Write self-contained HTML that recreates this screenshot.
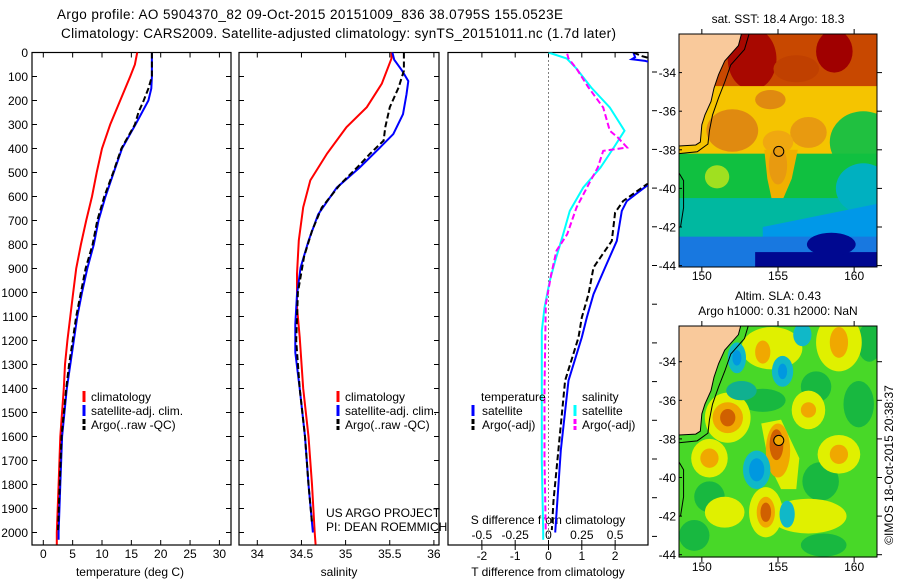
<!DOCTYPE html>
<html><head><meta charset="utf-8"><style>
html,body{margin:0;padding:0;background:#fff;}
svg{display:block;font-family:"Liberation Sans",sans-serif;}
</style></head><body>
<svg id="fig" width="900" height="580" viewBox="0 0 900 580">
<defs>
<clipPath id="c1"><rect x="32" y="52.5" width="199" height="492.5"/></clipPath>
<clipPath id="c2"><rect x="239" y="52.5" width="200" height="492.5"/></clipPath>
<clipPath id="c3"><rect x="448" y="52.5" width="200" height="492.5"/></clipPath>
<clipPath id="cm"><rect x="148.5" y="32" width="13" height="12.1"/></clipPath>
<clipPath id="cm2"><rect x="148.5" y="32.15" width="13" height="12"/></clipPath>
</defs>
<g font-size="13.5">
<text x="57" y="19" textLength="506">Argo profile: AO 5904370_82 09-Oct-2015 20151009_836 38.0795S 155.0523E</text>
<text x="61" y="38" textLength="555">Climatology: CARS2009. Satellite-adjusted climatology: synTS_20151011.nc (1.7d later)</text>
</g>
<g id="panels"></g>

<!-- SST map -->
<text x="778" y="23" text-anchor="middle" font-size="12">sat. SST: 18.4  Argo: 18.3</text>
<g>
<g transform="translate(679,34) scale(15.23,19.3) translate(-148.5,-32)">
<g clip-path="url(#cm)">
<rect x="148.5" y="32" width="13" height="12.2" fill="#10c040"/>
<rect x="148.5" y="32" width="13" height="3" fill="#c84800"/>
<ellipse cx="153.3" cy="33.3" rx="1.6" ry="1.6" fill="#a80800"/>
<ellipse cx="158.7" cy="32.9" rx="1.2" ry="1.1" fill="#a00000"/>
<ellipse cx="156.2" cy="33.8" rx="1.5" ry="0.7" fill="#c04000"/>
<rect x="148.5" y="34.7" width="13" height="3.6" fill="#f5c400"/>
<ellipse cx="160.6" cy="37.6" rx="2.2" ry="1.6" fill="#20c040"/>
<ellipse cx="152" cy="37" rx="1.7" ry="1.1" fill="#e08a10"/>
<ellipse cx="154.5" cy="35.4" rx="1" ry="0.5" fill="#e08a10"/>
<ellipse cx="157" cy="37.1" rx="1.2" ry="0.8" fill="#e89a10"/>
<ellipse cx="155" cy="37.6" rx="1" ry="0.6" fill="#f0a810"/>
<rect x="148.5" y="38.2" width="13" height="2.4" fill="#10c040"/>
<ellipse cx="151" cy="39.4" rx="0.8" ry="0.6" fill="#a0e020"/>
<polygon points="154.1,38 156.3,38 155.9,39.5 155.3,40.6 154.6,40.6 154.3,39.5" fill="#f0b000"/>
<ellipse cx="155" cy="38.8" rx="0.6" ry="1" fill="#e89a10"/>
<rect x="148.5" y="40.5" width="13" height="4" fill="#00b8a0"/>
<ellipse cx="160.6" cy="40" rx="1.8" ry="1.3" fill="#00b0c0"/>
<polygon points="154,42 161.5,40.8 161.5,44.2 154,44.2" fill="#0098e8"/>
<rect x="148.5" y="42.5" width="13" height="1.8" fill="#1878e0"/>
<rect x="153.5" y="43.3" width="8" height="1" fill="#000890"/>
<ellipse cx="158.5" cy="42.9" rx="1.6" ry="0.6" fill="#000890"/>
<polygon points="148.5,32 152.6,32 152.4,32.6 151.5,33.4 151.1,34.1 150.8,34.8 150.6,35.5 150.2,36.2 150,36.7 149.9,37.6 149.6,37.75 148.5,37.8" fill="#f9c99b"/>
<polyline points="153.1,32 152.8,32.8 151.9,33.6 151.5,34.5 151.1,35.3 150.7,36.2 150.5,37 150.4,37.7 149.7,38.1 148.5,38.2" fill="none" stroke="#000" stroke-width="1" vector-effect="non-scaling-stroke"/>
<polyline points="148.5,39.2 148.8,39.6 148.8,41 148.6,42" fill="none" stroke="#000" stroke-width="1" vector-effect="non-scaling-stroke"/>
<polyline points="152.6,32 152.4,32.6 151.5,33.4 151.1,34.1 150.8,34.8 150.6,35.5 150.2,36.2 150,36.7 149.9,37.6 149.6,37.75 148.5,37.8" fill="none" stroke="#000" stroke-width="1" vector-effect="non-scaling-stroke"/>
</g>
<ellipse cx="155.05" cy="38.08" rx="0.33" ry="0.26" fill="none" stroke="#000" stroke-width="1" vector-effect="non-scaling-stroke"/>
</g>
<rect x="679" y="34" width="198" height="233" fill="none" stroke="#000" stroke-width="1"/>
</g>

<!-- SLA map -->
<text x="778" y="300" text-anchor="middle" font-size="12">Altim. SLA: 0.43</text>
<text x="778" y="315" text-anchor="middle" font-size="12">Argo h1000: 0.31  h2000: NaN</text>
<g>
<g transform="translate(679,326) scale(15.23,19.3) translate(-148.5,-32.15)">
<g clip-path="url(#cm2)">
<rect x="148.5" y="32" width="13" height="12.3" fill="#48d828"/>
<g fill="#18b840">
<ellipse cx="150.5" cy="41" rx="1" ry="0.8"/><ellipse cx="160.3" cy="36.2" rx="1" ry="1.2"/>
<ellipse cx="157.5" cy="35.3" rx="1" ry="0.8"/><ellipse cx="154" cy="36" rx="1.5" ry="0.6"/>
<ellipse cx="157.8" cy="40.2" rx="1.2" ry="1"/><ellipse cx="158" cy="43.5" rx="1.5" ry="0.6"/>
<ellipse cx="149.5" cy="43" rx="1" ry="0.8"/><ellipse cx="161" cy="33" rx="0.8" ry="1"/>
</g>
<g fill="#e0f000">
<ellipse cx="151.7" cy="36.9" rx="1.5" ry="1.3"/>
<polygon points="153.9,37.2 155.2,37 156.4,39 156.2,40.6 155.2,40.6 154.4,39.3"/>
<ellipse cx="150.5" cy="39" rx="1.2" ry="1"/>
<ellipse cx="154.2" cy="41.8" rx="1.1" ry="1.3"/>
<ellipse cx="157" cy="36.5" rx="1.1" ry="1"/>
<ellipse cx="159" cy="38.8" rx="1.4" ry="1"/>
<ellipse cx="159" cy="33" rx="1.5" ry="1.5"/>
<ellipse cx="154.6" cy="33.3" rx="2" ry="1.1"/>
<ellipse cx="157" cy="42" rx="2.5" ry="0.9"/>
<ellipse cx="151.5" cy="41.8" rx="1.3" ry="0.8"/>
</g>
<g fill="#f0a800">
<ellipse cx="151.7" cy="36.9" rx="1" ry="0.8"/>
<ellipse cx="155" cy="38.6" rx="0.8" ry="1.4"/>
<ellipse cx="150.5" cy="39" rx="0.6" ry="0.5"/>
<ellipse cx="154.2" cy="41.8" rx="0.6" ry="0.8"/>
<ellipse cx="157" cy="36.5" rx="0.5" ry="0.4"/>
<ellipse cx="159" cy="38.8" rx="0.6" ry="0.5"/>
<ellipse cx="159" cy="33" rx="0.6" ry="0.8"/>
<ellipse cx="154" cy="33.5" rx="0.5" ry="0.6"/>
</g>
<g fill="#d06000">
<ellipse cx="151.7" cy="36.9" rx="0.5" ry="0.45"/>
<ellipse cx="154.9" cy="38.3" rx="0.45" ry="0.8"/>
<ellipse cx="154.2" cy="41.8" rx="0.35" ry="0.5"/>
</g>
<g fill="#10b8c8">
<ellipse cx="152.3" cy="33.8" rx="0.6" ry="0.8"/><ellipse cx="155.3" cy="34.5" rx="0.7" ry="0.8"/>
<ellipse cx="153.6" cy="39.6" rx="0.9" ry="1"/><ellipse cx="155.6" cy="41.9" rx="0.5" ry="0.7"/>
<ellipse cx="156.6" cy="32.6" rx="0.6" ry="0.6"/><ellipse cx="152.6" cy="35.5" rx="1" ry="0.5" fill="#10b090"/>
</g>
<g fill="#0098e0">
<ellipse cx="152.3" cy="33.8" rx="0.3" ry="0.4"/><ellipse cx="155.3" cy="34.5" rx="0.3" ry="0.4"/>
<ellipse cx="153.6" cy="39.6" rx="0.5" ry="0.6"/>
</g>
<polygon points="148.5,32 152.6,32 152.4,32.6 151.5,33.4 151.1,34.1 150.8,34.8 150.6,35.5 150.2,36.2 150,36.7 149.9,37.6 149.6,37.75 148.5,37.8" fill="#f9c99b"/>
<polyline points="153.1,32 152.8,32.8 151.9,33.6 151.5,34.5 151.1,35.3 150.7,36.2 150.5,37 150.4,37.7 149.7,38.1 148.5,38.2" fill="none" stroke="#000" stroke-width="1" vector-effect="non-scaling-stroke"/>
<polyline points="148.5,39.2 148.8,39.6 148.8,41 148.6,42" fill="none" stroke="#000" stroke-width="1" vector-effect="non-scaling-stroke"/>
<polyline points="152.6,32 152.4,32.6 151.5,33.4 151.1,34.1 150.8,34.8 150.6,35.5 150.2,36.2 150,36.7 149.9,37.6 149.6,37.75 148.5,37.8" fill="none" stroke="#000" stroke-width="1" vector-effect="non-scaling-stroke"/>
</g>
<ellipse cx="155.05" cy="38.08" rx="0.33" ry="0.26" fill="#f0a800" stroke="#000" stroke-width="1" vector-effect="non-scaling-stroke"/>
</g>
<rect x="679" y="326" width="198" height="231" fill="none" stroke="#000" stroke-width="1"/>
</g>
<g id="mapaxes" font-size="12"></g>
<text transform="translate(893,465) rotate(-90)" text-anchor="middle" font-size="12">©IMOS 18-Oct-2015 20:38:37</text>
</svg>
<script>
// ---- data ----
const depthTicks = [0,100,200,300,400,500,600,700,800,900,1000,1100,1200,1300,1400,1500,1600,1700,1800,1900,2000];
const tempTicks = [0,5,10,15,20,25,30];
const salTicks = [34,34.5,35,35.5,36];
const dtTicks = [-2,-1,0,1,2];
const dsTicks = [-0.5,-0.25,0,0.25,0.5];
const latTicks = [-34,-36,-38,-40,-42,-44];
const lonTicks = [150,155,160];

const climTDepth = [0,50,100,200,300,400,500,600,700,800,900,1000,1100,1200,1300,1400,1600,1800,2000,2050];
const climT = [16.0,15.6,14.8,13.1,11.4,10.0,9.1,8.3,7.3,6.4,5.6,5.1,4.6,4.1,3.7,3.5,2.9,2.6,2.3,2.3];
const satTDepth = [0,100,150,200,300,400,500,600,700,800,900,1000,1100,1200,1300,1400,1600,1800,2000,2030];
const satT = [18.5,18.5,18.4,17.9,15.7,13.4,12.0,10.6,9.4,8.6,7.5,6.6,5.8,5.2,4.6,4.0,3.2,2.9,2.6,2.6];
const argoTDepth = [0,100,150,200,250,300,400,500,600,700,800,900,1000,1100,1200,1300,1400,1600,1800,1990];
const argoT = [18.5,18.5,17.9,17.1,16.2,15.6,13.3,11.9,10.4,9.2,8.4,7.2,6.4,5.6,5.0,4.4,3.9,3.1,2.8,2.5];

const climSDepth = [0,25,130,228,311,421,533,645,783,922,1061,1186,1400,1600,1800,2000,2050];
const climS = [35.52,35.52,35.41,35.24,35.01,34.79,34.6,34.52,34.47,34.45,34.45,34.48,34.52,34.58,34.62,34.65,34.66];
const satSDepth = [0,30,76,119,174,257,340,396,479,563,674,785,896,1007,1132,1250,1400,1600,1800,2000];
const satS = [35.53,35.55,35.64,35.71,35.69,35.65,35.54,35.39,35.16,34.9,34.69,34.58,34.49,34.45,34.43,34.43,34.48,34.54,34.58,34.63];
const argoSDepth = [0,76,146,228,311,367,421,479,549,646,743,850,1000,1200,1400,1600,1800,1960];
const argoS = [35.66,35.66,35.6,35.5,35.45,35.43,35.28,35.13,34.94,34.73,34.62,34.53,34.46,34.44,34.48,34.54,34.58,34.62];

const satDSDepth = [0,25,67,146,229,326,396,479,563,660,757,868,951,1063,1160,1400,1700,2000,2030];
const satDS = [0,0.137,0.21,0.32,0.46,0.57,0.49,0.39,0.26,0.16,0.11,0.05,0.01,-0.03,-0.05,-0.05,-0.05,-0.04,-0.04];
const argoDSDepth = [5,25,67,146,229,326,354,396,410,479,540,646,757,826,924,1050,1400,1700,2000];
const argoDS = [0.14,0.15,0.21,0.30,0.41,0.46,0.52,0.59,0.41,0.37,0.31,0.21,0.14,0.06,0.02,-0.02,-0.03,-0.03,-0.02];
const satDTDepth = [0,20,28,35,45,100,500,550,619,660,785,896,1007,1104,1187,1367,1658,2000];
const satDT = [2.55,2.6,2.5,2.9,3.2,4.5,4.5,3.0,2.35,2.2,2.05,1.7,1.35,1.15,1.0,0.6,0.37,0.2];
const argoDTDepth = [0,15,30,100,500,549,619,667,785,896,1007,1104,1187,1367,1867,1990];
const argoDT = [2.55,2.8,3.2,4.5,4.5,2.95,2.24,2.0,1.9,1.35,1.2,1.0,0.9,0.5,0.15,0.1];

// ---- axes ----
const yD = d => 52.5 + d*0.24;
const xT = t => 43.3 + t*5.87;
const xS = s => 257.3 + (s-34)*88.3;
const xDT = t => 548.5 + t*33.3;
const xDS = s => 548.5 + s*133.3;
const mapX = lon => 679 + (lon-148.5)*15.23;
const mapY1 = lat => 34 + (-32 - lat)*19.3;
const mapY2 = lat => 326 + (-32.15 - lat)*19.3;

const NS = 'http://www.w3.org/2000/svg';
const panels = document.getElementById('panels');
function mk(tag, attrs, parent){
  const e = document.createElementNS(NS, tag);
  for (const k in attrs) e.setAttribute(k, attrs[k]);
  (parent||panels).appendChild(e);
  return e;
}
function txt(x,y,s,anchor,parent,size){
  const e = mk('text',{x:x,y:y,'text-anchor':anchor||'start','font-size':size||12},parent);
  e.textContent = s; return e;
}
function series(xs, ds, fx, color, dash, clip, name){
  let p = '';
  for (let i=0;i<xs.length;i++) p += (i?'L':'M') + fx(xs[i]).toFixed(1) + ' ' + yD(ds[i]).toFixed(1);
  const e = mk('path',{d:p,fill:'none',stroke:color,'stroke-width':2,'clip-path':'url(#'+clip+')'});
  if (dash) e.setAttribute('stroke-dasharray', dash);
  
  
  return e;
}
function frame(x0,x1,name,inTicks){
  const g = mk('g',{});
  
  
  mk('rect',{x:x0,y:52.5,width:x1-x0,height:492.5,fill:'#fff'},g);
  return g;
}
function border(g,x0,x1,xTicksPx,depthInside){
  mk('rect',{x:x0,y:52.5,width:x1-x0,height:492.5,fill:'none',stroke:'#000','stroke-width':1.2},g);
  if (depthInside) depthTicks.forEach(d=>{
    mk('line',{x1:x0,x2:x0+5,y1:yD(d),y2:yD(d),stroke:'#000'},g);
    mk('line',{x1:x1-5,x2:x1,y1:yD(d),y2:yD(d),stroke:'#000'},g);
  });
  xTicksPx.forEach(x=>{
    mk('line',{x1:x,x2:x,y1:52.5,y2:57.5,stroke:'#000'},g);
    mk('line',{x1:x,x2:x,y1:540,y2:545,stroke:'#000'},g);
  });
}
function legBar(x,y,color,dash,g){
  const e = mk('line',{x1:x,x2:x,y1:y-10,y2:y+1,stroke:color,'stroke-width':3},g);
  if (dash) e.setAttribute('stroke-dasharray','5,2');
}

// Panel 1: temperature
const g1 = frame(32,231,'temperature-panel');
series(climT, climTDepth, xT, '#f00', null, 'c1', 'temp-climatology-line');
series(satT, satTDepth, xT, '#00f', null, 'c1', 'temp-satellite-line');
series(argoT, argoTDepth, xT, '#000', '6,3', 'c1', 'temp-argo-line');
border(g1,32,231,tempTicks.map(xT),true);
tempTicks.forEach(t=>txt(xT(t),558,String(t),'middle',g1));
depthTicks.forEach(d=>txt(28,yD(d)+4.5,String(d),'end',g1));
txt(130,576,'temperature (deg C)','middle',g1);
const lg1 = mk('g',{});  
legBar(84,401,'#f00',null,lg1); txt(91,401,'climatology','start',lg1);
legBar(84,415,'#00f',null,lg1); txt(91,415,'satellite-adj. clim.','start',lg1);
legBar(84,429,'#000',true,lg1); txt(91,429,'Argo(..raw -QC)','start',lg1);

// Panel 2: salinity
const g2 = frame(239,439,'salinity-panel');
series(climS, climSDepth, xS, '#f00', null, 'c2', 'sal-climatology-line');
series(satS, satSDepth, xS, '#00f', null, 'c2', 'sal-satellite-line');
series(argoS, argoSDepth, xS, '#000', '6,3', 'c2', 'sal-argo-line');
border(g2,239,439,salTicks.map(xS),true);
salTicks.forEach(s=>txt(xS(s),558,String(s),'middle',g2));
txt(339,576,'salinity','middle',g2);
const lg2 = mk('g',{});  
legBar(338,401,'#f00',null,lg2); txt(345,401,'climatology','start',lg2);
legBar(338,415,'#00f',null,lg2); txt(345,415,'satellite-adj. clim.','start',lg2);
legBar(338,429,'#000',true,lg2); txt(345,429,'Argo(..raw -QC)','start',lg2);
const pr = mk('g',{});  
txt(326,517,'US ARGO PROJECT','start',pr);
txt(326,531,'PI: DEAN ROEMMICH','start',pr);

// Panel 3: differences
const g3 = frame(448,648,'difference-panel');
mk('line',{x1:548.5,x2:548.5,y1:52.5,y2:545,stroke:'#000','stroke-dasharray':'1,3'},g3);
series(satDT, satDTDepth, xDT, '#00f', null, 'c3', 'tdiff-satellite-line');
series(argoDT, argoDTDepth, xDT, '#000', '6,3', 'c3', 'tdiff-argo-line');
series(satDS, satDSDepth, xDS, '#0ff', null, 'c3', 'sdiff-satellite-line');
series(argoDS, argoDSDepth, xDS, '#f0f', '6,3', 'c3', 'sdiff-argo-line');
mk('rect',{x:448,y:52.5,width:200,height:492.5,fill:'none',stroke:'#000','stroke-width':1.2},g3);
dtTicks.forEach(t=>{
  mk('line',{x1:xDT(t),x2:xDT(t),y1:545,y2:550,stroke:'#000'},g3);
  mk('line',{x1:xDT(t),x2:xDT(t),y1:52.5,y2:57.5,stroke:'#000'},g3);
  txt(xDT(t),560,String(t),'middle',g3);
});
dsTicks.forEach(s=>{
  mk('line',{x1:xDS(s),x2:xDS(s),y1:540,y2:545,stroke:'#000'},g3);
  txt(xDS(s),539,String(s),'middle',g3);
});
for (let y=72; y<545; y+=38.7) mk('line',{x1:652,x2:657,y1:y,y2:y,stroke:'#000'},g3);
txt(548,524,'S difference from climatology','middle',g3);
txt(548,576,'T difference from climatology','middle',g3);
const lg3 = mk('g',{});  
txt(481,401,'temperature','start',lg3);
legBar(473,415,'#00f',null,lg3); txt(482,415,'satellite','start',lg3);
legBar(473,429,'#000',true,lg3); txt(482,429,'Argo(-adj)','start',lg3);
txt(582,401,'salinity','start',lg3);
legBar(575,415,'#0ff',null,lg3); txt(582,415,'satellite','start',lg3);
legBar(575,429,'#f0f',true,lg3); txt(582,429,'Argo(-adj)','start',lg3);

// Map axes
const ma = document.getElementById('mapaxes');
 
[[mapY1,34,267,280],[mapY2,326,557,571]].forEach(([fy,top,bot,ly])=>{
  lonTicks.forEach(l=>{
    mk('line',{x1:mapX(l),x2:mapX(l),y1:top-5,y2:top,stroke:'#000'},ma);
    mk('line',{x1:mapX(l),x2:mapX(l),y1:bot,y2:bot+5,stroke:'#000'},ma);
    txt(mapX(l),ly,String(l),'middle',ma);
  });
  latTicks.forEach(l=>{
    const y = fy(l);
    mk('line',{x1:679,x2:682,y1:y,y2:y,stroke:'#000'},ma);
    mk('line',{x1:877,x2:882,y1:y,y2:y,stroke:'#000'},ma);
    txt(676,y+4.5,String(l),'end',ma);
  });
});
</script>
</body></html>
